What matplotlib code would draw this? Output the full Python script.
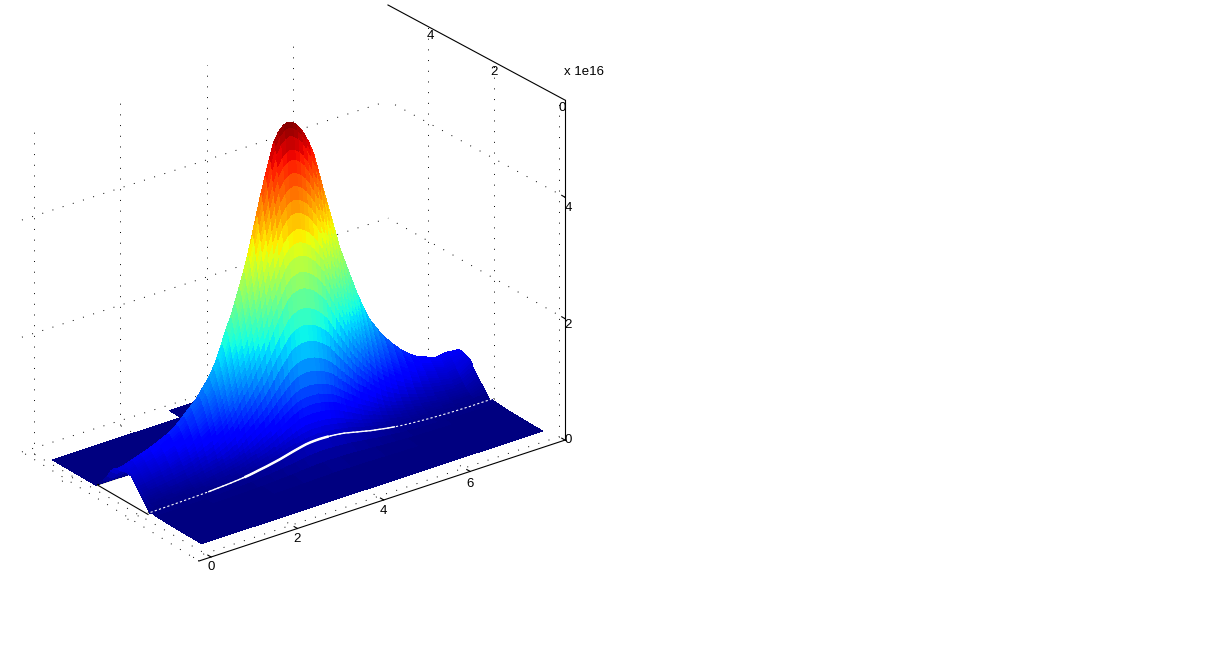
import numpy as np
import matplotlib
matplotlib.use('Agg')
import matplotlib.pyplot as plt
from mpl_toolkits.mplot3d import proj3d

plt.rcParams['font.family'] = ['Liberation Sans', 'DejaVu Sans']

# axis box and ticks (z in units of 1e16)
x_lim = (-0.28, 8.2)
y_lim = (-0.18, 5.22)
z_lim = (0, 5.6)
x_ticks = [0, 2, 4, 6]
y_ticks = [0, 2, 4]
z_ticks = [0, 2, 4]

# the picture has a little perspective: grid heights where they meet the back corners
wall_left_z = [0.1, 1.99, 3.92]
wall_right_z = [0.03, 1.96, 3.89]
wall_left_top = 5.45
wall_right_top = 5.47

# height along the crest of the hump
ridge_x = [0.2, 0.35, 0.5, 0.7, 0.9, 1.1, 1.35, 1.55, 1.7, 1.85, 2.05, 2.15, 2.3, 2.4, 2.5,
           2.6, 2.7, 2.8, 2.9, 3.0, 3.1, 3.2, 3.3, 3.4, 3.5, 3.6, 3.7, 3.8, 3.9, 4.0,
           4.1, 4.2, 4.3, 4.4, 4.5, 4.6, 4.7, 4.8, 4.9, 5.0, 5.1, 5.2, 5.3, 5.4, 5.5,
           5.6, 5.7, 5.85, 6.0, 6.15, 6.3, 6.5, 6.7, 6.9, 7.1, 7.35, 7.6, 7.8, 8.1]
ridge_z = [0.42, 0.45, 0.49, 0.54, 0.59, 0.65, 0.74, 0.83, 0.94, 1.05, 1.19, 1.3, 1.45, 1.58, 1.73,
           1.93, 2.15, 2.34, 2.54, 2.78, 3.02, 3.27, 3.58, 3.89, 4.2, 4.48, 4.75, 5.0, 5.14, 5.21,
           5.24, 5.21, 5.15, 5.06, 4.93, 4.77, 4.58, 4.3, 4.01, 3.73, 3.46, 3.18, 2.9, 2.68, 2.47,
           2.26, 2.05, 1.78, 1.54, 1.37, 1.21, 1.04, 0.89, 0.77, 0.67, 0.6, 0.54, 0.57, 0.57]

# share of the crest height across the hump
hump_y = [1.94, 1.99, 2.04, 2.09, 2.14, 2.18, 2.22, 2.26, 2.3, 2.34, 2.38, 2.42, 2.46, 2.5, 2.53, 2.56, 2.59,
          2.62, 2.65, 2.68, 2.71, 2.74, 2.77, 2.8, 2.83, 2.86, 2.88, 2.92, 2.97, 3.05, 3.15, 3.25, 3.37, 3.49]
hump_share = [0.06, 0.075, 0.09, 0.105, 0.13, 0.155, 0.18, 0.21, 0.25, 0.29, 0.34, 0.39, 0.44, 0.5, 0.55, 0.6, 0.64,
              0.68, 0.73, 0.77, 0.81, 0.85, 0.89, 0.92, 0.96, 0.985, 1.0, 0.99, 0.95, 0.8, 0.55, 0.33, 0.14, 0.0]

# the two end edges of the hump
left_edge = [0.0, 0.04, 0.07, 0.11, 0.15, 0.18, 0.21, 0.24, 0.27, 0.3, 0.33, 0.36, 0.39, 0.44, 0.47, 0.47, 0.47,
             0.47, 0.46, 0.46, 0.45, 0.45, 0.44, 0.44, 0.43, 0.43, 0.42, 0.42, 0.41, 0.39, 0.32, 0.2, 0.1, 0.0]
right_edge = [0.0, 0.02, 0.05, 0.08, 0.12, 0.15, 0.18, 0.2, 0.23, 0.26, 0.29, 0.32, 0.35, 0.39, 0.44, 0.47, 0.48,
              0.49, 0.5, 0.51, 0.51, 0.52, 0.52, 0.53, 0.53, 0.54, 0.54, 0.54, 0.52, 0.43, 0.29, 0.18, 0.08, 0.0]

# flat strip in front of the hump
strip_y = [0.37, 0.8, 1.2, 1.55, 1.75, 1.92]
strip_share = [0.0, 0.0, 0.1, 0.3, 0.6, 1.0]

# flat parts behind the hump
floor_left_x = [0.12, 3.1]
floor_left_y = [3.49, 4.82]
floor_back_x = [3.1, 7.0]
floor_back_y = [3.49, 5.18]
hole_x = [0.9, 0.15, 0.15]
hole_y = [3.49, 3.49, 1.94]

crack_share = hump_share[0]
z_top = max(ridge_z)


def add_surface(ax, xs, ys, zs, order):
    X, Y = np.meshgrid(xs, ys)
    ax.plot_surface(X, Y, np.asarray(zs), rstride=1, cstride=1, cmap='jet', vmin=0, vmax=z_top,
                    linewidth=0, antialiased=False, shade=False, zorder=order)


def dotted(ax, xs, ys, zs):
    ax.plot(xs, ys, zs, color='k', lw=0.7, ls=(0, (1, 10)), zorder=1)


def label(fig, px, py, text):
    fig.text(px / 1218, 1 - py / 657, text, fontsize=9.5, ha='center', va='center')


def fit_axes(ax, fig, start, end):
    # place the 3d axes so that the x axis lands on the given pixels
    ax.set_position([0, 0, 1, 1])
    ax.apply_aspect()
    M = ax.get_proj()
    pts = []
    for p in [(x_lim[0], y_lim[0], 0), (x_lim[1], y_lim[0], 0)]:
        u, v, _ = proj3d.proj_transform(p[0], p[1], p[2], M)
        pts.append(ax.transData.transform((u, v)))
    w, h = fig.canvas.get_width_height()
    box = ax.get_window_extent()
    side = box.width
    centre = np.array([box.x0 + box.width / 2, box.y0 + box.height / 2])
    a = np.array([start[0], h - start[1]])
    b = np.array([end[0], h - end[1]])
    ratio = np.linalg.norm(b - a) / np.linalg.norm(pts[1] - pts[0])
    new_centre = a - (pts[0] - centre) * ratio
    new_side = side * ratio
    ax.set_position([(new_centre[0] - new_side / 2) / w, (new_centre[1] - new_side / 2) / h,
                     new_side / w, new_side / h])


fig = plt.figure(figsize=(12.18, 6.57), dpi=100)
ax = fig.add_subplot(111, projection='3d', proj_type='ortho', computed_zorder=False)
ax.set_xlim(*x_lim)
ax.set_ylim(*y_lim)
ax.set_zlim(*z_lim)
ax.set_xticks([])
ax.set_yticks([])
ax.set_zticks([])
ax.view_init(elev=26, azim=-127)
ax.set_box_aspect((458, 294, 378))
ax.set_axis_off()
fit_axes(ax, fig, (199, 561), (565, 440))

x0, x1 = x_lim
y0, y1 = y_lim
z1 = z_lim[1]

# dotted grid on the walls and floor
for x in x_ticks:
    top = wall_left_top + (wall_right_top - wall_left_top) * (x - x0) / (x1 - x0)
    dotted(ax, [x, x], [y1, y1], [0, top])
    dotted(ax, [x, x], y_lim, [0, 0])
for y in y_ticks:
    dotted(ax, [x1, x1], [y, y], [0, z1 - (z1 - wall_right_top) * (y - y0) / (y1 - y0)])
    dotted(ax, x_lim, [y, y], [0, 0])
for z, zl, zr in zip(z_ticks, wall_left_z, wall_right_z):
    dotted(ax, x_lim, [y1, y1], [zl, zr])
    if z > 0:
        dotted(ax, [x1, x1], y_lim, [z, zr])
dotted(ax, [x0, x0], y_lim, [0, 0.1])

# surface pieces, back to front
add_surface(ax, floor_left_x, floor_left_y, np.zeros((2, 2)), 2)
add_surface(ax, floor_back_x, floor_back_y, np.zeros((2, 2)), 2)
ax.plot(hole_x, hole_y, [0, 0, 0], color='k', lw=0.8, zorder=2.5)

hump_z = np.outer(hump_share, ridge_z)
hump_z[:, 0] = left_edge
hump_z[:, -1] = right_edge
add_surface(ax, ridge_x, hump_y, hump_z, 3)

crack_z = crack_share * np.array(ridge_z)
strip_z = np.outer(strip_share, crack_z)
add_surface(ax, ridge_x, strip_y, strip_z, 4)

# white crack between the strip and the hump
crack_x = np.array(ridge_x)
crack_y = np.full(len(crack_x), 1.93)
ax.plot(crack_x, crack_y, crack_z, color='w', lw=0.8, ls=(0, (2, 2)), zorder=5)
wide = (crack_x > 1.4) & (crack_x < 6.0)
ax.plot(crack_x[wide], crack_y[wide], crack_z[wide], color='w', lw=1.0, zorder=5)
wider = (crack_x > 2.3) & (crack_x < 4.4)
ax.plot(crack_x[wider], crack_y[wider], crack_z[wider], color='w', lw=1.8, zorder=5)

# solid axes
ax.plot(x_lim, [y0, y0], [0, 0], color='k', lw=0.8, zorder=6)
ax.plot([x1, x1], [y0, y0], z_lim, color='k', lw=0.8, zorder=6)
ax.plot([x1, x1], y_lim, [z1, wall_right_top], color='k', lw=0.8, zorder=6)
for x in x_ticks:
    ax.plot([x, x], [y0, y0 + 0.1], [0, 0], color='k', lw=0.8, zorder=6)
for z in z_ticks:
    ax.plot([x1, x1], [y0, y0 + 0.1], [z, z], color='k', lw=0.8, zorder=6)

# tick labels sit where the picture has them, a bit off their ticks
for x, px, py in zip(x_ticks, [211, 297, 383, 470], [567, 539, 511, 484]):
    label(fig, px, py, str(x))
for y, px, py in zip(y_ticks, [562, 494, 430], [108, 72, 36]):
    label(fig, px, py, str(y))
for z, py in zip(z_ticks, [440, 325, 208]):
    label(fig, 568, py, str(z))
label(fig, 584, 72, 'x 1e16')

fig.savefig('out.png', dpi=100)
